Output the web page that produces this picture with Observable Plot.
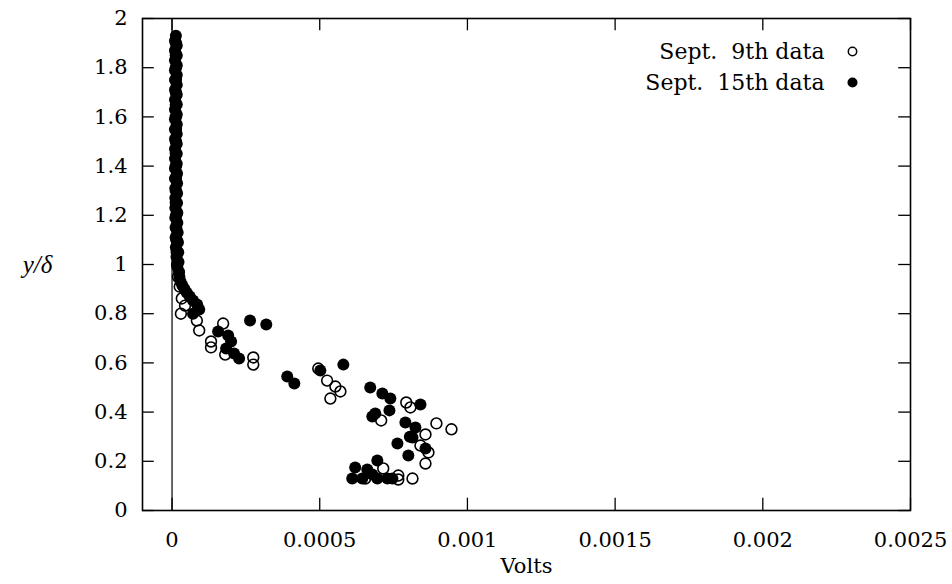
<!DOCTYPE html>
<html>
<head>
<meta charset="utf-8">
<script src="https://cdn.jsdelivr.net/npm/d3@7"></script>
<script src="https://cdn.jsdelivr.net/npm/@observablehq/plot@0.6"></script>
<style>
  html, body { margin: 0; padding: 0; background: white; }
  #chart { width: 952px; height: 584px; }
</style>
</head>
<body>
<div id="chart"></div>
<script>
// ---- Data ----
const xTicks = [0, 0.0005, 0.001, 0.0015, 0.002, 0.0025];
const xTickLabels = ["0", "0.0005", "0.001", "0.0015", "0.002", "0.0025"];
const yTicks = [0, 0.2, 0.4, 0.6, 0.8, 1, 1.2, 1.4, 1.6, 1.8, 2];
const yTickLabels = ["0", "0.2", "0.4", "0.6", "0.8", "1", "1.2", "1.4", "1.6", "1.8", "2"];
const seriesNames = ["Sept.\u00A0 9th data", "Sept.\u00A0 15th data"];

// Sept. 9th data (open circles)
const sep9Volts = [
  0.000013, 0.000013, 0.000013, 0.000013, 0.000013, 0.000013, 0.000013, 0.000013, 0.000013, 0.000013,
  0.000013, 0.000013, 0.000013, 0.000013, 0.000014, 0.000014, 0.000015, 0.000016, 0.000017, 0.000020, 0.000026,
  0.000033, 0.000044, 0.000030, 0.000084, 0.000092, 0.000173, 0.000132, 0.000132, 0.000180, 0.000275,
  0.000275, 0.000495, 0.000525, 0.000553, 0.000570, 0.000536, 0.000793, 0.000807, 0.000708, 0.000895,
  0.000946, 0.000858, 0.000841, 0.000868, 0.000858, 0.000654, 0.000715, 0.000766, 0.000766, 0.000814
];
const sep9Y = [
  1.90, 1.85, 1.80, 1.75, 1.70, 1.65, 1.60, 1.55, 1.50, 1.45,
  1.40, 1.35, 1.30, 1.25, 1.20, 1.15, 1.10, 1.05, 1.00, 0.95, 0.91,
  0.862, 0.833, 0.800, 0.772, 0.732, 0.760, 0.687, 0.663, 0.634, 0.622,
  0.593, 0.577, 0.528, 0.504, 0.484, 0.455, 0.439, 0.419, 0.366, 0.354,
  0.330, 0.309, 0.264, 0.236, 0.191, 0.130, 0.171, 0.142, 0.126, 0.130
];

// Sept. 15th data (filled circles)
const sep15Volts = [
  0.000013, 0.000010, 0.000016, 0.000010, 0.000016, 0.000010, 0.000016, 0.000010, 0.000016, 0.000010,
  0.000016, 0.000010, 0.000016, 0.000010, 0.000016, 0.000010, 0.000016, 0.000010, 0.000016, 0.000010,
  0.000016, 0.000010, 0.000016, 0.000010, 0.000016, 0.000010, 0.000016, 0.000010, 0.000017, 0.000010,
  0.000017, 0.000011, 0.000017, 0.000011, 0.000017, 0.000011, 0.000018, 0.000011, 0.000018, 0.000012,
  0.000019, 0.000012, 0.000020, 0.000013, 0.000021, 0.000015, 0.000022, 0.000018, 0.000024, 0.000025,
  0.000029, 0.000035, 0.000042, 0.000050, 0.000060,
  0.000071, 0.000085, 0.000092, 0.000071, 0.000264, 0.000319, 0.000156, 0.000190, 0.000200, 0.000183,
  0.000210, 0.000227, 0.000390, 0.000414, 0.000502, 0.000580, 0.000671, 0.000712, 0.000739, 0.000736,
  0.000688, 0.000678, 0.000841, 0.000790, 0.000824, 0.000814, 0.000763, 0.000858, 0.000800, 0.000695,
  0.000620, 0.000661, 0.000610, 0.000644, 0.000695, 0.000729, 0.000746, 0.000678, 0.000805
];
const sep15Y = [
  1.93, 1.91, 1.89, 1.87, 1.85, 1.83, 1.81, 1.79, 1.77, 1.75,
  1.73, 1.71, 1.69, 1.67, 1.65, 1.63, 1.61, 1.59, 1.57, 1.55,
  1.53, 1.51, 1.49, 1.47, 1.45, 1.43, 1.41, 1.39, 1.37, 1.35,
  1.33, 1.31, 1.29, 1.27, 1.25, 1.23, 1.21, 1.19, 1.17, 1.15,
  1.13, 1.11, 1.09, 1.07, 1.05, 1.03, 1.01, 0.99, 0.97, 0.95,
  0.93, 0.915, 0.90, 0.885, 0.87,
  0.854, 0.837, 0.817, 0.800, 0.772, 0.756, 0.728, 0.711, 0.687, 0.659,
  0.638, 0.618, 0.545, 0.516, 0.569, 0.593, 0.500, 0.476, 0.455, 0.407,
  0.394, 0.382, 0.431, 0.358, 0.337, 0.297, 0.272, 0.252, 0.224, 0.203,
  0.175, 0.167, 0.130, 0.130, 0.130, 0.130, 0.130, 0.146, 0.300
];

// ---- Build tables ----
const sep9 = sep9Volts.map((v, i) => ({volts: v, y: sep9Y[i]}));
const sep15 = sep15Volts.map((v, i) => ({volts: v, y: sep15Y[i]}));
const xLabel = new Map(xTicks.map((t, i) => [t, xTickLabels[i]]));
const yLabel = new Map(yTicks.map((t, i) => [t, yTickLabels[i]]));

const xMin = -0.0001, xMax = 0.0025, yMin = 0, yMax = 2;
const tickLenY = 0.05;      // ~12px in y units
const tickLenX = 0.00004;   // ~12px in x units

const font = "DejaVu Serif";

const chart = Plot.plot({
  width: 952,
  height: 584,
  marginLeft: 142,
  marginRight: 42,
  marginTop: 18,
  marginBottom: 74,
  style: {fontFamily: font, fontSize: "21px", color: "black", background: "white", overflow: "visible"},
  x: {domain: [xMin, xMax], axis: null},
  y: {domain: [yMin, yMax], axis: null},
  marks: [
    // tick labels (placed through the x / y scales)
    Plot.text(xTicks, {x: d => d, frameAnchor: "bottom", dy: 30, lineAnchor: "middle", text: d => xLabel.get(d), fontSize: 21, fontFamily: font}),
    Plot.text(yTicks, {y: d => d, frameAnchor: "left", dx: -15, textAnchor: "end", lineAnchor: "middle", text: d => yLabel.get(d), fontSize: 21, fontFamily: font}),
    // zero axis
    Plot.ruleX([0], {stroke: "black", strokeWidth: 1.2}),
    // inward ticks on all four sides
    Plot.ruleX(xTicks, {x: d => d, y1: yMin, y2: yMin + tickLenY, stroke: "black", strokeWidth: 1.3}),
    Plot.ruleX(xTicks, {x: d => d, y1: yMax, y2: yMax - tickLenY, stroke: "black", strokeWidth: 1.3}),
    Plot.ruleY(yTicks, {y: d => d, x1: xMin, x2: xMin + tickLenX, stroke: "black", strokeWidth: 1.3}),
    Plot.ruleY(yTicks, {y: d => d, x1: xMax, x2: xMax - tickLenX, stroke: "black", strokeWidth: 1.3}),
    Plot.frame({stroke: "black", strokeWidth: 1.6}),
    // data
    Plot.dot(sep9, {x: "volts", y: "y", r: 5.4, fill: "none", stroke: "black", strokeWidth: 1.6}),
    Plot.dot(sep15, {x: "volts", y: "y", r: 6, fill: "black", stroke: "none"}),
    // axis labels
    Plot.text(["Volts"], {frameAnchor: "bottom", dy: 56, lineAnchor: "middle", text: d => d, fontSize: 21, fontFamily: font}),
    Plot.text(["y/δ"], {frameAnchor: "left", dx: -105, textAnchor: "middle", lineAnchor: "middle", text: d => d, fontSize: 25, fontStyle: "italic", fontFamily: "Liberation Serif"}),
    // legend
    Plot.text([seriesNames[0]], {frameAnchor: "top-right", dx: -86, dy: 33, textAnchor: "end", lineAnchor: "middle", text: d => d, fontSize: 22, fontFamily: font}),
    Plot.text([seriesNames[1]], {frameAnchor: "top-right", dx: -86, dy: 64, textAnchor: "end", lineAnchor: "middle", text: d => d, fontSize: 22, fontFamily: font}),
    Plot.dot([seriesNames[0]], {frameAnchor: "top-right", dx: -58, dy: 33, r: 4.2, fill: "none", stroke: "black", strokeWidth: 1.5}),
    Plot.dot([seriesNames[1]], {frameAnchor: "top-right", dx: -58, dy: 64, r: 5, fill: "black", stroke: "none"})
  ]
});
document.getElementById("chart").appendChild(chart);
</script>
</body>
</html>
